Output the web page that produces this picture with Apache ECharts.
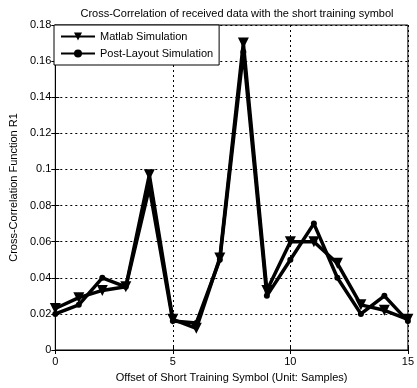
<!DOCTYPE html>
<html><head><meta charset="utf-8">
<script src="https://cdn.jsdelivr.net/npm/echarts@6/dist/echarts.min.js"></script>
<style>html,body{margin:0;padding:0;background:#fff}#c{width:417px;height:388px}</style>
</head><body><div id="c"></div>
<script>
const offsets = [0,1,2,3,4,5,6,7,8,9,10,11,12,13,14,15];
const matlabSim = [0.023,0.029,0.033,0.035,0.097,0.017,0.012,0.051,0.170,0.033,0.060,0.060,0.048,0.025,0.022,0.017];
const postLayoutSim = [0.020,0.025,0.040,0.035,0.090,0.016,0.015,0.050,0.165,0.030,0.050,0.070,0.040,0.020,0.030,0.016];
const seriesNames = ['Matlab Simulation','Post-Layout Simulation'];
const titleText = 'Cross-Correlation of received data with the short training symbol';
const xTitle = 'Offset of Short Training Symbol (Unit: Samples)';
const yTitle = 'Cross-Correlation Function R1';

const FONT = '"Liberation Sans", Arial, sans-serif';
const FS = 11;
const chart = echarts.init(document.getElementById('c'), null, {renderer:'canvas'});
const pair = arr => offsets.map((x,i)=>[x,arr[i]]);
const axisCommon = {
  axisLine:{show:true,lineStyle:{color:'#000',width:1}},
  axisTick:{show:true,inside:true,length:4,lineStyle:{color:'#000'}},
  splitLine:{show:true,lineStyle:{color:'#000',type:[2,3],width:1}},
  axisLabel:{color:'#000',fontFamily:FONT,fontSize:FS}
};
chart.setOption({
  animation:false,
  backgroundColor:'#fff',
  title:{text:titleText,left:232,textAlign:'center',top:3,textStyle:{fontFamily:FONT,fontSize:FS,fontWeight:'normal',color:'#000'}},
  grid:{left:54,right:7,top:25,bottom:37,show:true,borderColor:'#000',borderWidth:1,backgroundColor:'transparent'},
  legend:{
    orient:'vertical',left:54,top:25,padding:[6,6,6,6],itemGap:6,
    itemWidth:34,itemHeight:10,
    backgroundColor:'#fff',borderColor:'#000',borderWidth:1,borderRadius:0,
    textStyle:{fontFamily:FONT,fontSize:FS,color:'#000'},
    data:seriesNames
  },
  xAxis:[{
    type:'value',min:0,max:15,interval:5,
    name:xTitle,nameLocation:'middle',nameGap:22,
    nameTextStyle:{fontFamily:FONT,fontSize:FS,color:'#000'},
    ...axisCommon,
    axisLabel:{...axisCommon.axisLabel,margin:6}
  },{
    type:'value',min:0,max:15,interval:5,position:'top',
    axisLine:{show:false},axisTick:{show:true,inside:true,length:4,lineStyle:{color:'#000'}},
    axisLabel:{show:false},splitLine:{show:false}
  }],
  yAxis:[{
    type:'value',min:0,max:0.18,interval:0.02,
    name:yTitle,nameLocation:'middle',nameGap:35,
    nameTextStyle:{fontFamily:FONT,fontSize:FS,color:'#000'},
    ...axisCommon,
    axisLabel:{...axisCommon.axisLabel,margin:4}
  },{
    type:'value',min:0,max:0.18,interval:0.02,position:'right',
    axisLine:{show:false},axisTick:{show:true,inside:true,length:4,lineStyle:{color:'#000'}},
    axisLabel:{show:false},splitLine:{show:false}
  }],
  series:[{
    name:seriesNames[0],type:'line',data:pair(matlabSim),
    symbol:'triangle',symbolRotate:180,symbolSize:11,showAllSymbol:true,
    lineStyle:{color:'#000',width:3.5},itemStyle:{color:'#000'}
  },{
    name:seriesNames[1],type:'line',data:pair(postLayoutSim),
    symbol:'circle',symbolSize:6,showAllSymbol:true,
    lineStyle:{color:'#000',width:3.5},itemStyle:{color:'#000'}
  }]
});
</script></body></html>
